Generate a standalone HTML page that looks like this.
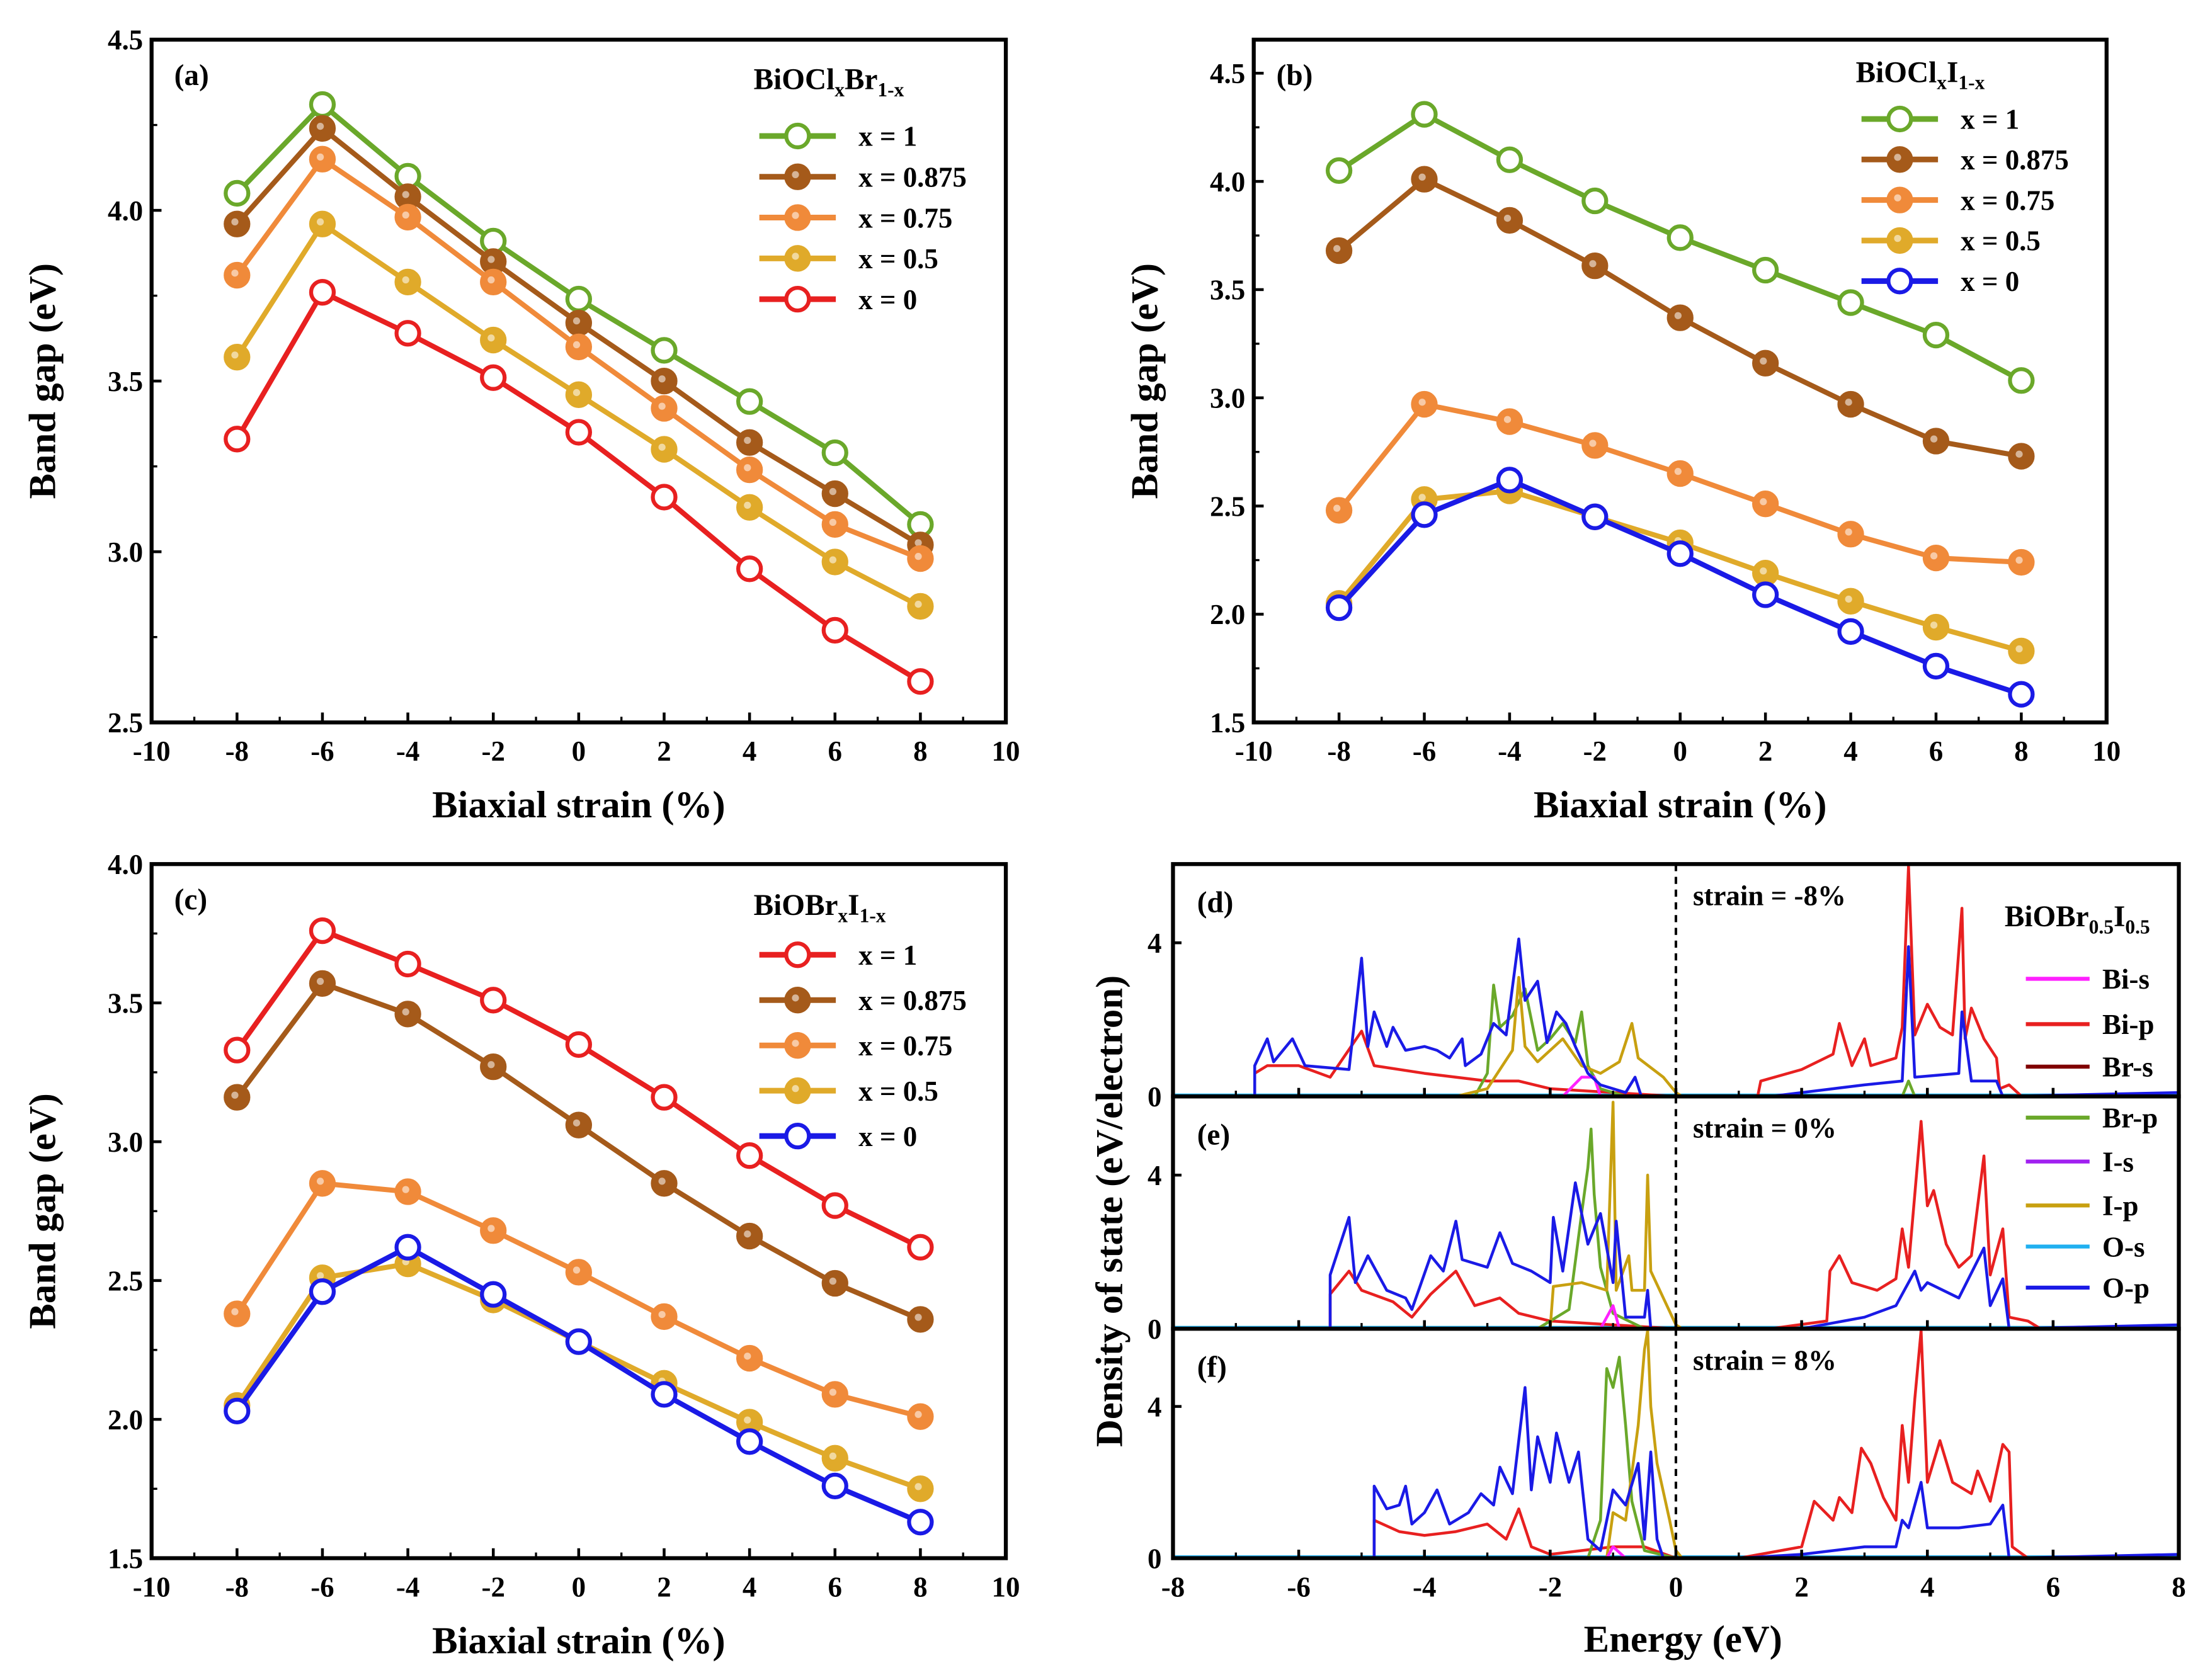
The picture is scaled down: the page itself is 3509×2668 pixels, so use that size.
<!DOCTYPE html>
<html><head><meta charset="utf-8"><style>
html,body{margin:0;padding:0;background:#fff;}
svg{display:block;font-family:"Liberation Serif",serif;font-weight:bold;}
</style></head><body>
<svg id="fig" width="3509" height="2668" viewBox="0 0 1560 1186" preserveAspectRatio="none" xmlns="http://www.w3.org/2000/svg"></svg>
<script>
// ---------- data ----------
const strain = [-8,-6,-4,-2,0,2,4,6,8];
const xTicks = [-10,-8,-6,-4,-2,0,2,4,6,8,10];
const aLabels = ["x = 1","x = 0.875","x = 0.75","x = 0.5","x = 0"];
const a_x1   = [4.05,4.31,4.10,3.91,3.74,3.59,3.44,3.29,3.08];
const a_x875 = [3.96,4.24,4.04,3.85,3.67,3.50,3.32,3.17,3.02];
const a_x75  = [3.81,4.15,3.98,3.79,3.60,3.42,3.24,3.08,2.98];
const a_x5   = [3.57,3.96,3.79,3.62,3.46,3.30,3.13,2.97,2.84];
const a_x0   = [3.33,3.76,3.64,3.51,3.35,3.16,2.95,2.77,2.62];
const aTicks = [2.5,3.0,3.5,4.0,4.5];
const b_x1   = [4.05,4.31,4.10,3.91,3.74,3.59,3.44,3.29,3.08];
const b_x875 = [3.68,4.01,3.82,3.61,3.37,3.16,2.97,2.80,2.73];
const b_x75  = [2.48,2.97,2.89,2.78,2.65,2.51,2.37,2.26,2.24];
const b_x5   = [2.05,2.53,2.57,2.45,2.33,2.19,2.06,1.94,1.83];
const b_x0   = [2.03,2.46,2.62,2.45,2.28,2.09,1.92,1.76,1.63];
const bTicks = [1.5,2.0,2.5,3.0,3.5,4.0,4.5];
const c_x1   = [3.33,3.76,3.64,3.51,3.35,3.16,2.95,2.77,2.62];
const c_x875 = [3.16,3.57,3.46,3.27,3.06,2.85,2.66,2.49,2.36];
const c_x75  = [2.38,2.85,2.82,2.68,2.53,2.37,2.22,2.09,2.01];
const c_x5   = [2.05,2.51,2.56,2.43,2.28,2.13,1.99,1.86,1.75];
const c_x0   = [2.03,2.46,2.62,2.45,2.28,2.09,1.92,1.76,1.63];
const cTicks = [1.5,2.0,2.5,3.0,3.5,4.0];
const eTicks = [-8,-6,-4,-2,0,2,4,6,8];
const dosTicks = [0,4];
const dosLegend = ["Bi-s","Bi-p","Br-s","Br-p","I-s","I-p","O-s","O-p"];
// DOS (energy, value) pairs
const d_Op = [[-8,0],[-6.7,0],[-6.7,0.8],[-6.5,1.5],[-6.4,0.9],[-6.1,1.5],[-5.9,0.8],[-5.2,0.7],[-5.0,3.6],[-4.9,1.3],[-4.8,2.2],[-4.6,1.3],[-4.5,1.8],[-4.3,1.2],[-4,1.3],[-3.8,1.2],[-3.6,1.0],[-3.4,1.5],[-3.35,0.8],[-3.1,1.1],[-2.9,1.9],[-2.7,1.6],[-2.5,4.1],[-2.4,2.5],[-2.2,3.0],[-2.05,1.4],[-1.9,2.2],[-1.75,1.9],[-1.6,1.3],[-1.4,0.6],[-1.2,0.3],[-0.8,0.1],[-0.65,0.5],[-0.55,0],[1.5,0],[2.5,0.2],[3,0.3],[3.6,0.4],[3.7,3.9],[3.8,0.5],[4.5,0.6],[4.55,2.2],[4.7,0.4],[5.1,0.4],[5.2,0],[8,0.1]];
const d_Bip = [[-8,0],[-6.7,0],[-6.7,0.6],[-6.5,0.8],[-6,0.8],[-5.5,0.5],[-5,1.7],[-4.8,0.8],[-4,0.6],[-3,0.4],[-2.5,0.4],[-2,0.2],[-1,0.1],[0,0],[1.3,0],[1.35,0.4],[2,0.7],[2.5,1.1],[2.6,1.9],[2.8,0.8],[3,1.5],[3.1,0.8],[3.5,1.0],[3.6,1.8],[3.7,6],[3.8,1.6],[4,2.4],[4.2,1.8],[4.4,1.6],[4.55,4.9],[4.6,1.5],[4.7,2.3],[4.9,1.5],[5.1,1.0],[5.15,0.2],[5.3,0.3],[5.5,0],[8,0]];
const d_Brp = [[-8,0],[-3.2,0],[-3,0.6],[-2.9,2.9],[-2.8,1.8],[-2.6,2.1],[-2.4,2.8],[-2.2,1.2],[-2,1.5],[-1.8,1.9],[-1.6,1.4],[-1.5,2.2],[-1.4,0.8],[-1.2,0.2],[-0.8,0],[3.6,0],[3.7,0.4],[3.8,0],[8,0]];
const d_Ip = [[-8,0],[-3.5,0],[-3,0.2],[-2.6,1.2],[-2.5,3.1],[-2.4,1.3],[-2.2,0.9],[-2,1.2],[-1.8,1.5],[-1.5,0.8],[-1.2,0.6],[-0.9,0.9],[-0.7,1.9],[-0.6,1.0],[-0.2,0.5],[0,0.1],[0.1,0],[8,0]];
const d_Bis = [[-8,0],[-1.8,0],[-1.5,0.5],[-1.3,0.5],[-1.2,0],[8,0]];
const e_Op = [[-8,0],[-5.5,0],[-5.5,1.4],[-5.2,2.9],[-5.1,1.2],[-4.9,1.9],[-4.6,1.0],[-4.3,0.8],[-4.2,0.5],[-3.9,1.9],[-3.7,1.5],[-3.5,2.8],[-3.4,1.8],[-3.0,1.6],[-2.8,2.5],[-2.6,1.7],[-2.3,1.5],[-2.0,1.2],[-1.95,2.9],[-1.8,1.5],[-1.6,3.8],[-1.4,2.2],[-1.2,3.0],[-1.0,1.2],[-0.95,2.8],[-0.8,0.3],[-0.5,0.3],[-0.45,1.0],[-0.4,0],[2,0],[3,0.3],[3.5,0.6],[3.6,0.9],[3.8,1.5],[3.9,1.0],[4,1.2],[4.5,0.8],[4.9,2.1],[5,0.6],[5.2,1.3],[5.3,0],[8,0.1]];
const e_Bip = [[-8,0],[-5.5,0],[-5.5,0.9],[-5.2,1.5],[-5,1.0],[-4.5,0.7],[-4.2,0.3],[-3.9,0.9],[-3.5,1.5],[-3.2,0.6],[-2.8,0.8],[-2.5,0.4],[-2,0.2],[-1,0.1],[0,0],[1.5,0],[2.4,0.2],[2.45,1.5],[2.6,1.9],[2.8,1.2],[3.2,1.0],[3.5,1.3],[3.6,2.6],[3.7,1.6],[3.9,5.4],[4,3.2],[4.1,3.6],[4.3,2.2],[4.5,1.6],[4.7,1.9],[4.9,4.5],[5,1.4],[5.2,2.6],[5.3,0.3],[5.6,0.2],[5.8,0],[8,0]];
const e_Brp = [[-8,0],[-2.2,0],[-2,0.2],[-1.7,0.5],[-1.5,3.0],[-1.4,4.2],[-1.35,5.2],[-1.3,3.5],[-1.2,1.6],[-1,0.4],[-0.5,0],[8,0]];
const e_Ip = [[-8,0],[-2,0],[-1.95,1.1],[-1.5,1.2],[-1.1,1.0],[-1.0,5.9],[-0.95,1.0],[-0.75,1.9],[-0.7,1.0],[-0.5,1.0],[-0.45,4.0],[-0.4,1.5],[-0.2,0.8],[0,0.1],[0.1,0],[8,0]];
const e_Bis = [[-8,0],[-1.2,0],[-1,0.6],[-0.9,0],[8,0]];
const f_Op = [[-8,0],[-4.8,0],[-4.8,1.9],[-4.6,1.3],[-4.4,1.4],[-4.3,1.9],[-4.2,0.9],[-4.0,1.2],[-3.8,1.8],[-3.6,0.9],[-3.3,1.2],[-3.1,1.7],[-2.9,1.4],[-2.8,2.4],[-2.6,1.7],[-2.4,4.5],[-2.3,1.8],[-2.2,3.2],[-2.0,2.0],[-1.9,3.3],[-1.7,2.0],[-1.55,2.8],[-1.4,0.5],[-1.2,0.2],[-1.0,1.8],[-0.8,1.4],[-0.6,2.5],[-0.5,0.5],[-0.4,2.8],[-0.3,0.5],[-0.2,0],[1,0],[2,0.1],[3,0.3],[3.5,0.3],[3.6,1.0],[3.7,0.8],[3.9,2.0],[4,0.8],[4.5,0.8],[5.0,0.9],[5.2,1.4],[5.3,0],[8,0.1]];
const f_Bip = [[-8,0],[-4.8,0],[-4.8,1.0],[-4.4,0.7],[-4,0.6],[-3.5,0.7],[-3,0.9],[-2.7,0.5],[-2.5,1.3],[-2.3,0.3],[-2,0.1],[-1,0.3],[-0.5,0.3],[0,0],[1,0],[2,0.3],[2.2,1.5],[2.5,1.0],[2.6,1.6],[2.8,1.2],[2.95,2.9],[3.1,2.5],[3.3,1.6],[3.5,1.0],[3.6,3.5],[3.7,2.0],[3.8,4.2],[3.9,6],[4,2.0],[4.2,3.1],[4.4,2.0],[4.7,1.7],[4.8,2.3],[5,1.5],[5.2,3.0],[5.3,2.8],[5.35,0.3],[5.6,0],[8,0]];
const f_Brp = [[-8,0],[-1.4,0],[-1.2,1.0],[-1.1,5.0],[-1.0,4.5],[-0.9,5.3],[-0.8,3.5],[-0.7,1.5],[-0.5,0.2],[0,0],[8,0]];
const f_Ip = [[-8,0],[-1.1,0],[-1.0,1.2],[-0.8,1.0],[-0.6,3.5],[-0.5,5.5],[-0.45,6],[-0.4,4.0],[-0.3,2.5],[-0.1,1.0],[0,0.2],[0.1,0],[8,0]];
const f_Bis = [[-8,0],[-1.1,0],[-1,0.3],[-0.8,0],[8,0]];

// ---------- drawing ----------
const NS="http://www.w3.org/2000/svg";
const svg=document.getElementById('fig');
function mk(tag,attrs,parent){const e=document.createElementNS(NS,tag);for(const k in attrs)e.setAttribute(k,attrs[k]);(parent||svg).appendChild(e);return e;}
function txt(s,x,y,size,anchor,parent){const t=mk('text',{x:x,y:y,'font-size':size,'text-anchor':anchor||'middle',fill:'#000'},parent);t.textContent=s;return t;}

const COL={green:'#6aa82a',brown:'#a55a1a',orange:'#f08a3a',yellow:'#e0aa2a',red:'#e82020',blue:'#1a1ae6'};

function bandPanel(name,box,ymin,ymax,yTicks,series,letter,titleParts,leg){
  const g=mk('g',{});
  
  
  const X=v=>box.x0+(v+10)/20*(box.x1-box.x0);
  const Y=v=>box.y1-(v-ymin)/(ymax-ymin)*(box.y1-box.y0);
  xTicks.forEach(t=>{
    mk('line',{x1:X(t),x2:X(t),y1:box.y1,y2:box.y1-7,stroke:'#000','stroke-width':2},g);
    const l=txt(String(t),X(t),box.y1+27,20,'middle',g);
    
    
  });
  for(let t=-9;t<=9;t+=2) mk('line',{x1:X(t),x2:X(t),y1:box.y1,y2:box.y1-4,stroke:'#000','stroke-width':1.5},g);
  yTicks.forEach(t=>{
    mk('line',{x1:box.x0,x2:box.x0+7,y1:Y(t),y2:Y(t),stroke:'#000','stroke-width':2},g);
    const l=txt(t.toFixed(1),box.x0-6,Y(t)+7,20,'end',g);
    
    
    if(t+0.25<ymax) mk('line',{x1:box.x0,x2:box.x0+4,y1:Y(t+0.25),y2:Y(t+0.25),stroke:'#000','stroke-width':1.5},g);
  });
  mk('rect',{x:box.x0,y:box.y0,width:box.x1-box.x0,height:box.y1-box.y0,fill:'none',stroke:'#000','stroke-width':2.8},g);
  const xt=txt('Biaxial strain (%)',(box.x0+box.x1)/2,box.y1+67,27,'middle',g);
  
  
  const cy=(box.y0+box.y1)/2;
  const yt=txt('Band gap (eV)',0,0,27,'middle',g);
  yt.setAttribute('transform','translate('+(box.x0-68)+','+cy+') rotate(-90)');
  
  
  const pl=txt(letter,box.x0+16,box.y0+32,21,'start',g);
  
  
  const tt=mk('text',{x:leg.x,y:leg.ty,'font-size':21,fill:'#000'},g);
  
  
  titleParts.forEach(p=>{const s=mk('tspan',p.sub?{'font-size':14,dy:5}:{dy:p.up?-5:0},tt);s.textContent=p.t;});
  series.forEach((s,i)=>{
    const sg=mk('g',{},g);
    
    
    const pts=s.data.map((v,k)=>X(strain[k])+','+Y(v)).join(' ');
    mk('polyline',{points:pts,fill:'none',stroke:COL[s.c],'stroke-width':3.6},sg);
    s.data.forEach((v,k)=>marker(sg,X(strain[k]),Y(v),s));
    const ly=leg.y0+i*leg.dy;
    const lg=mk('g',{},g);
    
    
    mk('line',{x1:leg.x+4,x2:leg.x+58,y1:ly,y2:ly,stroke:COL[s.c],'stroke-width':4},lg);
    marker(lg,leg.x+31,ly,s);
    txt(s.label,leg.x+74,ly+7,20,'start',lg);
  });
}
function marker(parent,x,y,s){
  const m=mk('circle',{cx:x,cy:y,r:8,fill:s.open?'#fff':COL[s.c],stroke:COL[s.c],'stroke-width':2.8},parent);
  
  
  if(!s.open) mk('circle',{cx:x-1.5,cy:y-1.5,r:2.5,fill:'#fff','fill-opacity':0.55},parent);
}

bandPanel('panel-a',{x0:107,x1:710,y0:28,y1:510},2.5,4.5,aTicks,[
 {label:aLabels[0],data:a_x1,c:'green',open:true},
 {label:aLabels[1],data:a_x875,c:'brown'},
 {label:aLabels[2],data:a_x75,c:'orange'},
 {label:aLabels[3],data:a_x5,c:'yellow'},
 {label:aLabels[4],data:a_x0,c:'red',open:true}],'(a)',
 [{t:'BiOCl'},{t:'x',sub:true},{t:'Br',up:true},{t:'1-x',sub:true}],{x:532,ty:63,y0:96,dy:28.8});
bandPanel('panel-b',{x0:885,x1:1487,y0:28,y1:510},1.5,4.655,bTicks,[
 {label:aLabels[0],data:b_x1,c:'green',open:true},
 {label:aLabels[1],data:b_x875,c:'brown'},
 {label:aLabels[2],data:b_x75,c:'orange'},
 {label:aLabels[3],data:b_x5,c:'yellow'},
 {label:aLabels[4],data:b_x0,c:'blue',open:true}],'(b)',
 [{t:'BiOCl'},{t:'x',sub:true},{t:'I',up:true},{t:'1-x',sub:true}],{x:1310,ty:58,y0:84,dy:28.6});
bandPanel('panel-c',{x0:107,x1:710,y0:610,y1:1100},1.5,4.0,cTicks,[
 {label:aLabels[0],data:c_x1,c:'red',open:true},
 {label:aLabels[1],data:c_x875,c:'brown'},
 {label:aLabels[2],data:c_x75,c:'orange'},
 {label:aLabels[3],data:c_x5,c:'yellow'},
 {label:aLabels[4],data:c_x0,c:'blue',open:true}],'(c)',
 [{t:'BiOBr'},{t:'x',sub:true},{t:'I',up:true},{t:'1-x',sub:true}],{x:532,ty:646,y0:674,dy:32});

const DC={'Bi-s':'#ff20ff','Bi-p':'#e82020','Br-s':'#800000','Br-p':'#6aa82a','I-s':'#a020f0','I-p':'#c8a010','O-s':'#20b0f0','O-p':'#1a1ae6'};
const dbox={x0:828,x1:1538};
const subs=[{n:'dos-panel-d',y0:610,y1:774,l:'(d)',s:'strain = -8%',d:[['Bi-p',d_Bip],['Br-p',d_Brp],['I-p',d_Ip],['Bi-s',d_Bis],['O-p',d_Op]]},
 {n:'dos-panel-e',y0:774,y1:938,l:'(e)',s:'strain = 0%',d:[['Bi-p',e_Bip],['Br-p',e_Brp],['I-p',e_Ip],['Bi-s',e_Bis],['O-p',e_Op]]},
 {n:'dos-panel-f',y0:938,y1:1100,l:'(f)',s:'strain = 8%',d:[['Bi-p',f_Bip],['Br-p',f_Brp],['I-p',f_Ip],['Bi-s',f_Bis],['O-p',f_Op]]}];
const EX=e=>dbox.x0+(e+8)/16*(dbox.x1-dbox.x0);
subs.forEach((p,pi)=>{
  const g=mk('g',{});
  
  
  const ymax=6.05;
  const Y=v=>p.y1-Math.min(v,ymax)/ymax*(p.y1-p.y0);
  mk('clipPath',{id:'cp'+pi},g).appendChild(document.createElementNS(NS,'rect'));
  const cr=g.querySelector('clipPath rect');
  cr.setAttribute('x',dbox.x0);cr.setAttribute('y',p.y0);cr.setAttribute('width',dbox.x1-dbox.x0);cr.setAttribute('height',p.y1-p.y0);
  const cg=mk('g',{'clip-path':'url(#cp'+pi+')'},g);
  mk('line',{x1:dbox.x0,x2:dbox.x1,y1:p.y1-1,y2:p.y1-1,stroke:'#20b0f0','stroke-width':2},cg);
  p.d.forEach(([nm,arr])=>{
    const pl=mk('polyline',{points:arr.map(q=>EX(q[0])+','+Y(q[1])).join(' '),fill:'none',stroke:DC[nm],'stroke-width':2,'stroke-linejoin':'round'},cg);
    
    
  });
  mk('line',{x1:EX(0),x2:EX(0),y1:p.y0,y2:p.y1,stroke:'#000','stroke-width':1.8,'stroke-dasharray':'5,4'},g);
  dosTicks.forEach(t=>{
    mk('line',{x1:dbox.x0,x2:dbox.x0+6,y1:Y(t),y2:Y(t),stroke:'#000','stroke-width':2},g);
    txt(String(t),dbox.x0-8,Y(t)+7,20,'end',g);
  });
  eTicks.forEach(t=>{mk('line',{x1:EX(t),x2:EX(t),y1:p.y1,y2:p.y1-6,stroke:'#000','stroke-width':2},g);});
  for(let t=-7;t<=7;t+=2) mk('line',{x1:EX(t),x2:EX(t),y1:p.y1,y2:p.y1-4,stroke:'#000','stroke-width':1.5},g);
  mk('rect',{x:dbox.x0,y:p.y0,width:dbox.x1-dbox.x0,height:p.y1-p.y0,fill:'none',stroke:'#000','stroke-width':2.8},g);
  txt(p.l,dbox.x0+17,p.y0+34,21,'start',g);
  txt(p.s,1195,p.y0+29,20,'start',g);
});
const ft=mk('text',{x:1415,y:654,'font-size':21,fill:'#000'});


[['BiOBr',0,21],['0.5',5,14],['I',-5,21],['0.5',5,14]].forEach(a=>{const s=mk('tspan',{dy:a[1],'font-size':a[2]},ft);s.textContent=a[0];});
dosLegend.forEach((nm,i)=>{
  const ys=[691,723,753,789,820,851,880,909];
  const lg=mk('g',{});
  
  
  mk('line',{x1:1430,x2:1475,y1:ys[i],y2:ys[i],stroke:DC[nm],'stroke-width':2.8},lg);
  txt(nm,1484,ys[i]+7,20,'start',lg);
});
eTicks.forEach(t=>{const l=txt(String(t),EX(t),1127,20,'middle');
  
  });
const et=txt('Energy (eV)',1188,1166,27,'middle');


const dt=txt('Density of state (eV/electron)',0,0,27,'middle');
dt.setAttribute('transform','translate(792,855) rotate(-90)');


</script>
</body></html>
